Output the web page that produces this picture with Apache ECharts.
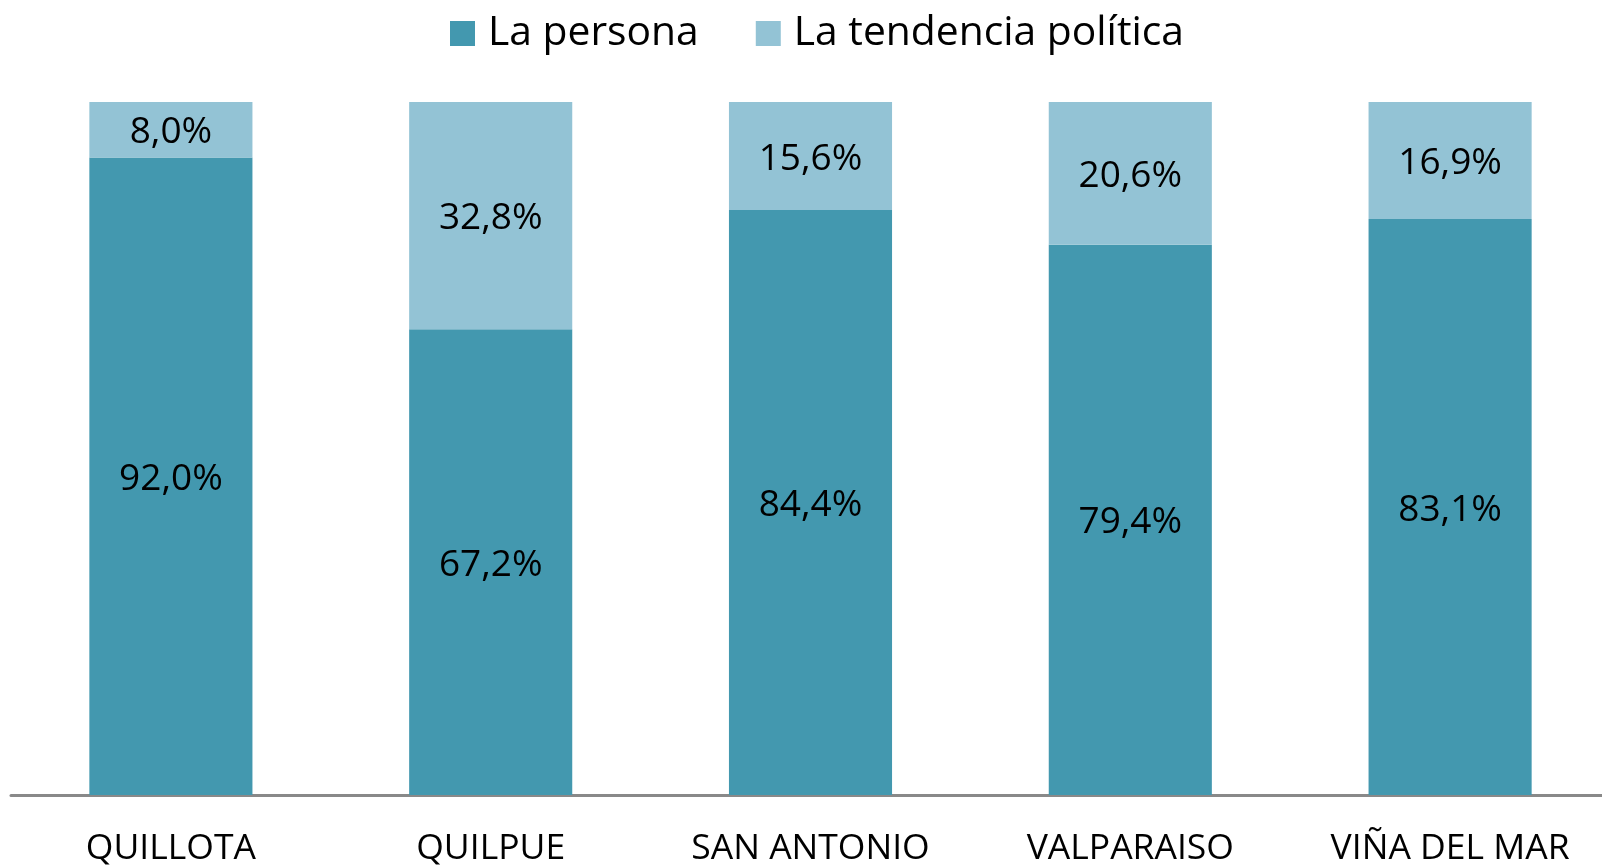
<!DOCTYPE html>
<html>
<head>
<meta charset="utf-8">
<script src="https://cdn.jsdelivr.net/npm/echarts@6/dist/echarts.min.js"></script>
<style>
  html, body { margin: 0; padding: 0; background: #ffffff; overflow: hidden; }
  #chart { width: 1610px; height: 867px; }
</style>
</head>
<body>
<div id="chart"></div>
<script>
const categories = ["QUILLOTA", "QUILPUE", "SAN ANTONIO", "VALPARAISO", "VIÑA DEL MAR"];
const persona = [92.0, 67.2, 84.4, 79.4, 83.1];
const tendencia = [8.0, 32.8, 15.6, 20.6, 16.9];

const fontFamily = "'Open Sans', 'Noto Sans', sans-serif";

// etiqueta con coma decimal
const fmt = (p) => p.value.toFixed(1).replace(".", ",") + "%";

const chart = echarts.init(document.getElementById("chart"));

const option = {
  backgroundColor: "#FFFFFF",
  animation: false,
  legend: {
    top: 8,
    left: 445,
    itemWidth: 25,
    itemHeight: 25,
    itemGap: 57,
    textStyle: { fontFamily, fontSize: 40.8, color: "#000", padding: [0, 0, 0, 8] },
    icon: "rect",
    data: ["La persona", "La tendencia política"],
  },
  grid: {
    left: 11,
    right: 0,
    top: 102,
    bottom: 71,
  },
  xAxis: {
    type: "category",
    data: categories,
    axisTick: { show: false },
    axisLine: { lineStyle: { color: "#898989", width: 3 } },
    axisLabel: { fontFamily, fontSize: 35.5, color: "#000", margin: 36 },
  },
  yAxis: {
    type: "value",
    min: 0,
    max: 100,
    show: false,
    splitLine: { show: false },
  },
  series: [
    {
      name: "La persona",
      type: "bar",
      stack: "total",
      barWidth: "51%",
      data: persona,
      itemStyle: { color: "#4398AF" },
      label: { show: true, position: "inside", offset: [0, 3], formatter: fmt, fontFamily, fontSize: 37, color: "#000" },
    },
    {
      name: "La tendencia política",
      type: "bar",
      stack: "total",
      barWidth: "51%",
      data: tendencia,
      itemStyle: { color: "#93C3D5" },
      label: { show: true, position: "inside", offset: [0, 3], formatter: fmt, fontFamily, fontSize: 37, color: "#000" },
    },
  ],
};

chart.setOption(option);
</script>
</body>
</html>
